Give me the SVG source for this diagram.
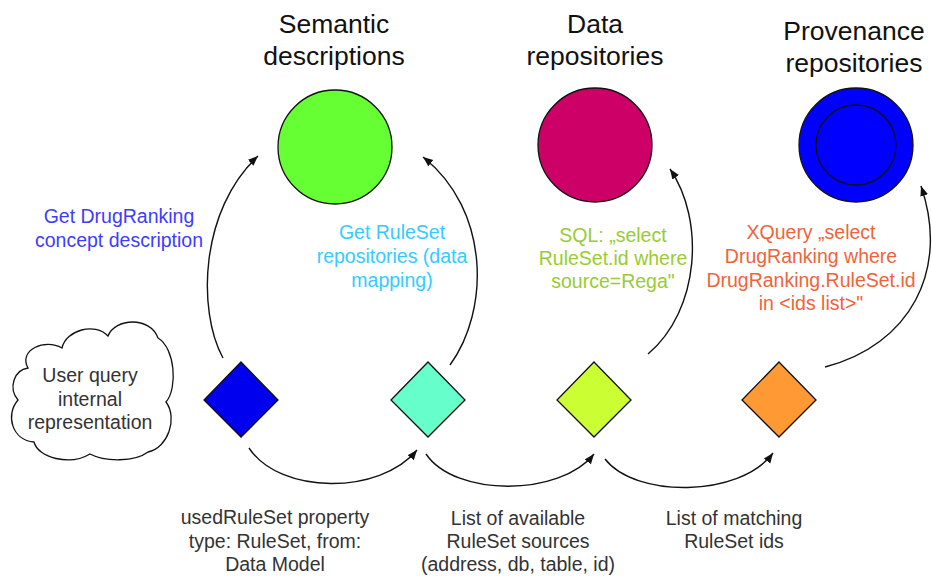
<svg xmlns="http://www.w3.org/2000/svg" width="932" height="579" viewBox="0 0 932 579">
<defs>
<style>
text{font-family:"Liberation Sans",Arial,sans-serif;text-anchor:middle}
.title{font-size:26.5px;fill:#111}
.lbl{font-size:19.5px}
.dark{fill:#333}
.node{stroke:#111;stroke-width:1.3}
.conn{fill:none;stroke:#111;stroke-width:1.4;marker-end:url(#ah)}
</style>
<marker id="ah" markerUnits="userSpaceOnUse" markerWidth="12" markerHeight="10" refX="10" refY="4" orient="auto">
<path d="M0,0 L10,4 L0,8 Z" fill="#111"/>
</marker>
</defs>
<rect width="932" height="579" fill="#fff"/>

<g id="title-semantic"><text class="title" x="334" y="33">Semantic</text><text class="title" x="334" y="65">descriptions</text></g>
<g id="title-data"><text class="title" x="595" y="33">Data</text><text class="title" x="595" y="65">repositories</text></g>
<g id="title-prov"><text class="title" x="854" y="40">Provenance</text><text class="title" x="854" y="72">repositories</text></g>

<g id="semantic-circle"><circle class="node" cx="335" cy="147" r="57" fill="#66ff33"/></g>
<g id="data-circle"><circle class="node" cx="595" cy="145" r="57" fill="#cc0066"/></g>
<g id="prov-circle"><circle class="node" cx="856" cy="145" r="57" fill="#0000ff"/><circle class="node" cx="856" cy="145" r="40" fill="#0000ff"/></g>

<g id="cloud">
<path class="node" fill="#fff" d="M28,368 C18,350 45,338 62,348 C66,330 95,322 108,336 C115,318 150,316 158,338 C175,348 178,388 166,402 C178,418 168,448 148,452 C135,462 105,462 90,454 C70,466 38,458 34,442 C12,440 5,415 18,400 C8,388 14,370 28,368 Z"/>
<text class="lbl dark" x="90" y="382">User query</text>
<text class="lbl dark" x="90" y="406">internal</text>
<text class="lbl dark" x="90" y="429">representation</text>
</g>

<g id="d1"><path class="node" d="M241,362 L278,400 L241,437 L204,400 Z" fill="#0000ee"/></g>
<g id="d2"><path class="node" d="M428,362 L465,400 L428,437 L391,400 Z" fill="#66ffcc"/></g>
<g id="d3"><path class="node" d="M594,362 L631,400 L594,437 L557,400 Z" fill="#ccff33"/></g>
<g id="d4"><path class="node" d="M779,362 L816,400 L779,437 L742,400 Z" fill="#ff9933"/></g>

<g id="connectors">
<path class="conn" d="M223,358 C197,310 200,210 258,156"/>
<path class="conn" d="M450,365 C490,310 490,210 423,157"/>
<path class="conn" d="M648,354 C700,310 705,220 670,169"/>
<path class="conn" d="M825,367 C910,345 950,270 921,186"/>
<path class="conn" d="M249,448 C280,495 380,495 417,450"/>
<path class="conn" d="M426,454 C455,497 560,497 594,454"/>
<path class="conn" d="M605,459 C635,498 740,498 773,453"/>
</g>

<g id="lbl-drug" fill="#3d3dff">
<text class="lbl" x="119" y="223">Get DrugRanking</text>
<text class="lbl" x="119" y="247">concept description</text>
</g>
<g id="lbl-ruleset" fill="#33ccff">
<text class="lbl" x="392" y="239">Get RuleSet</text>
<text class="lbl" x="392" y="263">repositories (data</text>
<text class="lbl" x="392" y="287">mapping)</text>
</g>
<g id="lbl-sql" fill="#99cc33">
<text class="lbl" x="613" y="242">SQL: „select</text>
<text class="lbl" x="613" y="265">RuleSet.id where</text>
<text class="lbl" x="613" y="288">source=Rega"</text>
</g>
<g id="lbl-xquery" fill="#f0643a">
<text class="lbl" x="811" y="239">XQuery „select</text>
<text class="lbl" x="811" y="263">DrugRanking where</text>
<text class="lbl" x="811" y="287">DrugRanking.RuleSet.id</text>
<text class="lbl" x="811" y="310">in &lt;ids list&gt;"</text>
</g>

<g id="lbl-bottom1" class="dark">
<text class="lbl dark" x="275" y="524">usedRuleSet property</text>
<text class="lbl dark" x="275" y="548">type: RuleSet, from:</text>
<text class="lbl dark" x="275" y="571">Data Model</text>
</g>
<g id="lbl-bottom2">
<text class="lbl dark" x="518" y="525">List of available</text>
<text class="lbl dark" x="518" y="548">RuleSet sources</text>
<text class="lbl dark" x="518" y="571">(address, db, table, id)</text>
</g>
<g id="lbl-bottom3">
<text class="lbl dark" x="734" y="525">List of matching</text>
<text class="lbl dark" x="734" y="548">RuleSet ids</text>
</g>
</svg>
